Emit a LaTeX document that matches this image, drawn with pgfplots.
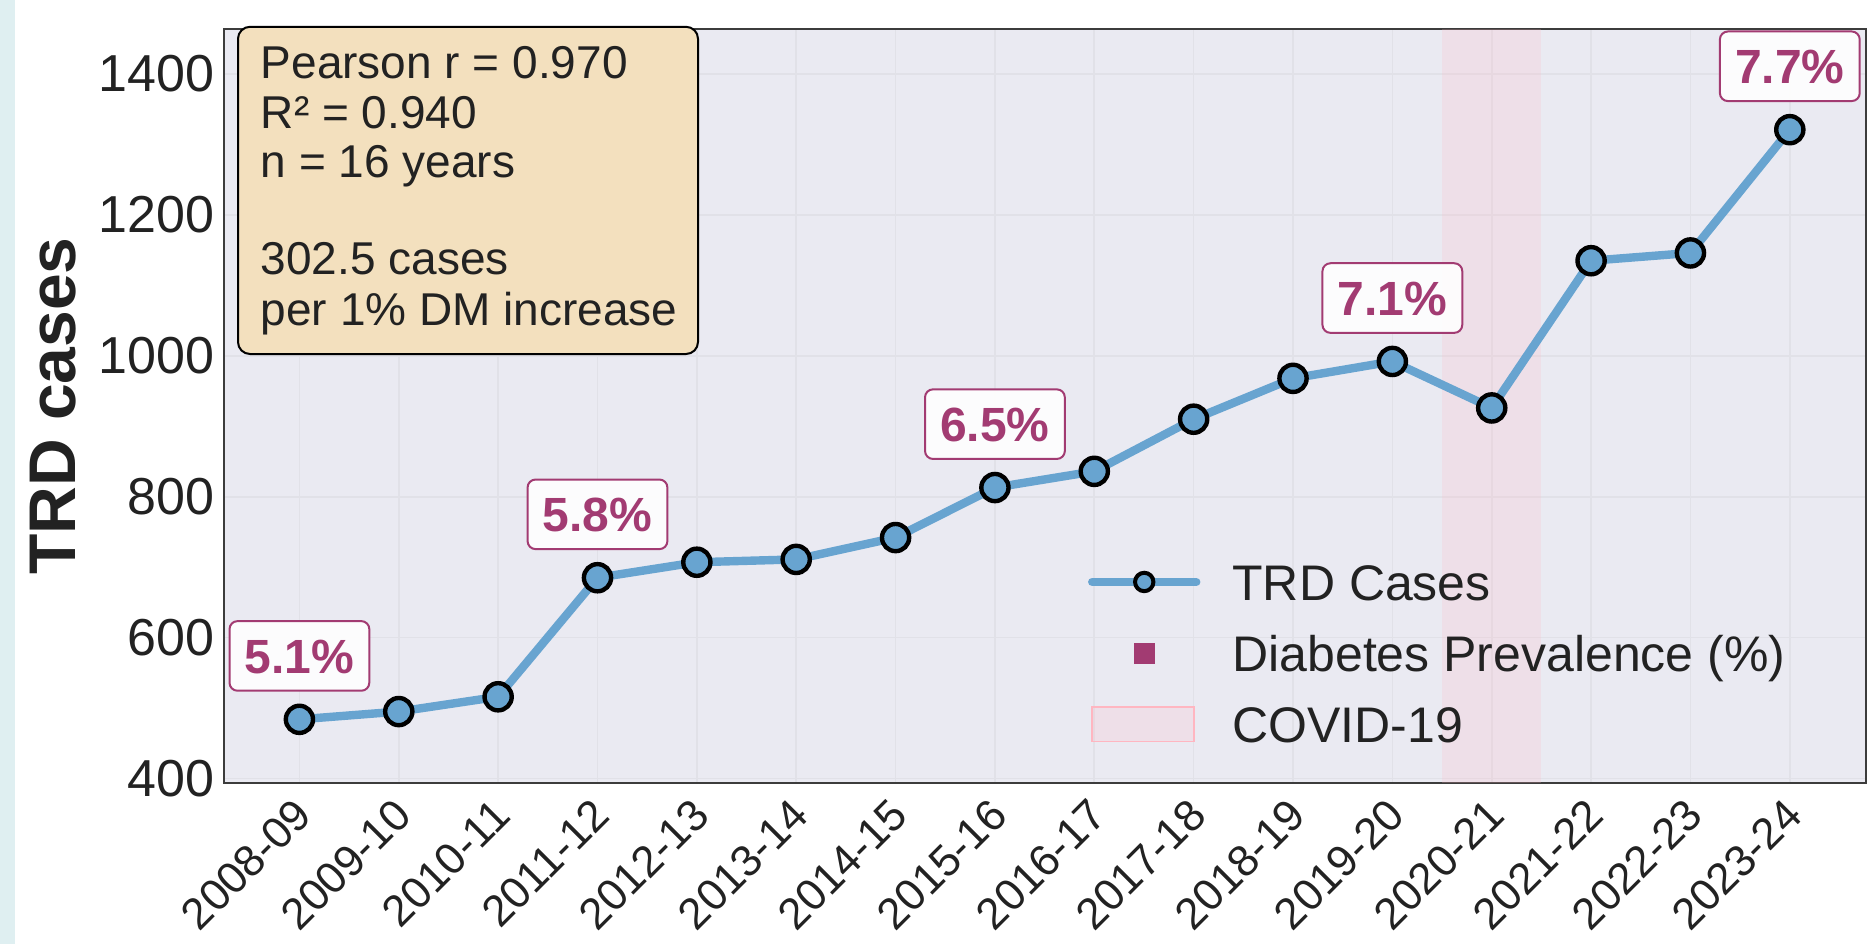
\documentclass[border=0pt]{standalone}
\usepackage{pgfplots}
\pgfplotsset{compat=1.18}
\usepackage{fontspec}
\setmainfont{Liberation Sans}
\definecolor{bgax}{RGB}{234,234,242}
\definecolor{gridc}{RGB}{225,225,232}
\definecolor{trd}{RGB}{104,164,208}
\definecolor{dm}{RGB}{162,59,114}
\definecolor{pinkc}{RGB}{255,182,193}
\definecolor{wheatc}{RGB}{243,224,190}
\definecolor{stripc}{RGB}{223,239,241}
\definecolor{framec}{RGB}{60,60,60}
\definecolor{txt}{RGB}{34,34,34}
\begin{document}
\begin{tikzpicture}
\useasboundingbox (0,0) rectangle (467.75pt,236pt);
\fill[white] (0,0) rectangle (467.75pt,236pt);
\fill[stripc] (0,0) rectangle (3.75pt,236pt);
\begin{axis}[
  at={(56pt,40.25pt)}, anchor=south west,
  scale only axis, width=410.5pt, height=188.5pt,
  xmin=-0.759, xmax=15.767, ymin=393.6, ymax=1463.9,
  axis background/.style={fill=bgax},
  axis line style={framec, line width=0.6pt},
  grid=major, major grid style={gridc, line width=0.4pt},
  major tick length=0pt,
  xtick={0,...,15},
  xticklabels={2008-09,2009-10,2010-11,2011-12,2012-13,2013-14,2014-15,2015-16,2016-17,2017-18,2018-19,2019-20,2020-21,2021-22,2022-23,2023-24},
  ytick={400,600,...,1400},
  tick label style={font=\fontsize{13}{15}\selectfont, text=txt},
  /pgf/number format/assume math mode=true,
  /pgf/number format/set thousands separator={},
  xticklabel style={font=\fontsize{11}{13}\selectfont, rotate=45, anchor=south east, inner sep=0pt, xshift=-3.4pt, yshift=-9.1pt},
  yticklabel style={inner sep=0pt, xshift=-2.2pt},
  ylabel={TRD cases},
  ylabel style={font=\fontsize{16.5}{19}\selectfont\bfseries, text=txt, at={(axis description cs:-0.1041,0.5)}, anchor=center},
  clip mode=individual,
  legend cell align=left,
  legend style={at={(axis description cs:0.5262,0.2966)}, anchor=north west, draw=none, fill=none,
    font=\fontsize{12.5}{15}\selectfont, text=txt, inner sep=0pt, outer sep=0pt, row sep=6.5pt,
    /tikz/every odd column/.append style={column sep=8pt},
    nodes={inner sep=0pt, text height=10.3pt, text depth=1pt}},
]
\addplot[draw=none, fill=pinkc, fill opacity=0.2, forget plot] coordinates {(11.5,1500) (12.5,1500)} \closedcycle;
\addplot[trd, line width=2.1pt, mark=*, mark size=3.4pt,
  mark options={fill=trd, draw=black, line width=1.1pt},
  legend image code/.code={
    \draw[trd, line width=2.1pt, line cap=round] (0pt,0pt) -- (26pt,0pt);
    \draw[fill=trd, draw=black, line width=1pt] (13pt,0pt) circle (2.3pt);}]
coordinates {
(0,484) (1,495) (2,516) (3,685) (4,707) (5,711) (6,742) (7,813)
(8,836) (9,910) (10,968) (11,992) (12,926) (13,1135) (14,1146) (15,1321)
};
\addlegendentry{TRD Cases}
\addlegendimage{legend image code/.code={\path (0pt,0pt) (26pt,0pt); \fill[dm] (10.6pt,-2.4pt) rectangle (15.4pt,2.4pt);}}
\addlegendentry{Diabetes Prevalence (\%)}
\addlegendimage{legend image code/.code={\fill[pinkc, fill opacity=0.2] (0pt,-4.3pt) rectangle (25.5pt,4.3pt);}}
\addlegendentry{COVID-19}
\tikzset{lbl/.style={yshift=15.85pt, draw=dm, fill=white, fill opacity=0.9, text opacity=1, text=dm,
  font=\fontsize{12}{14}\selectfont\bfseries, rounded corners=2pt, line width=0.5pt,
  inner xsep=3.8pt, inner ysep=4.4pt, text height=8.6pt, text depth=0pt}}
\node[lbl] at (axis cs:0,484) {5.1\%};
\node[lbl] at (axis cs:3,685) {5.8\%};
\node[lbl] at (axis cs:7,813) {6.5\%};
\node[lbl] at (axis cs:11,992) {7.1\%};
\node[lbl] at (axis cs:15,1321) {7.7\%};
\end{axis}
\draw[black, line width=0.5pt, fill=wheatc, rounded corners=3pt] (59.5pt,147.5pt) rectangle (174.5pt,229.3pt);
\begin{scope}[every node/.style={anchor=base west, inner sep=0pt, text=txt, font=\fontsize{11.5}{13}\selectfont}]
\node at (65pt,216.4pt) {Pearson r = 0.970};
\node at (65pt,203.9pt) {R² = 0.940};
\node at (65pt,191.6pt) {n = 16 years};
\node at (65pt,167.4pt) {302.5 cases};
\node at (65pt,154.6pt) {per 1\% DM increase};
\end{scope}
\end{tikzpicture}
\end{document}
